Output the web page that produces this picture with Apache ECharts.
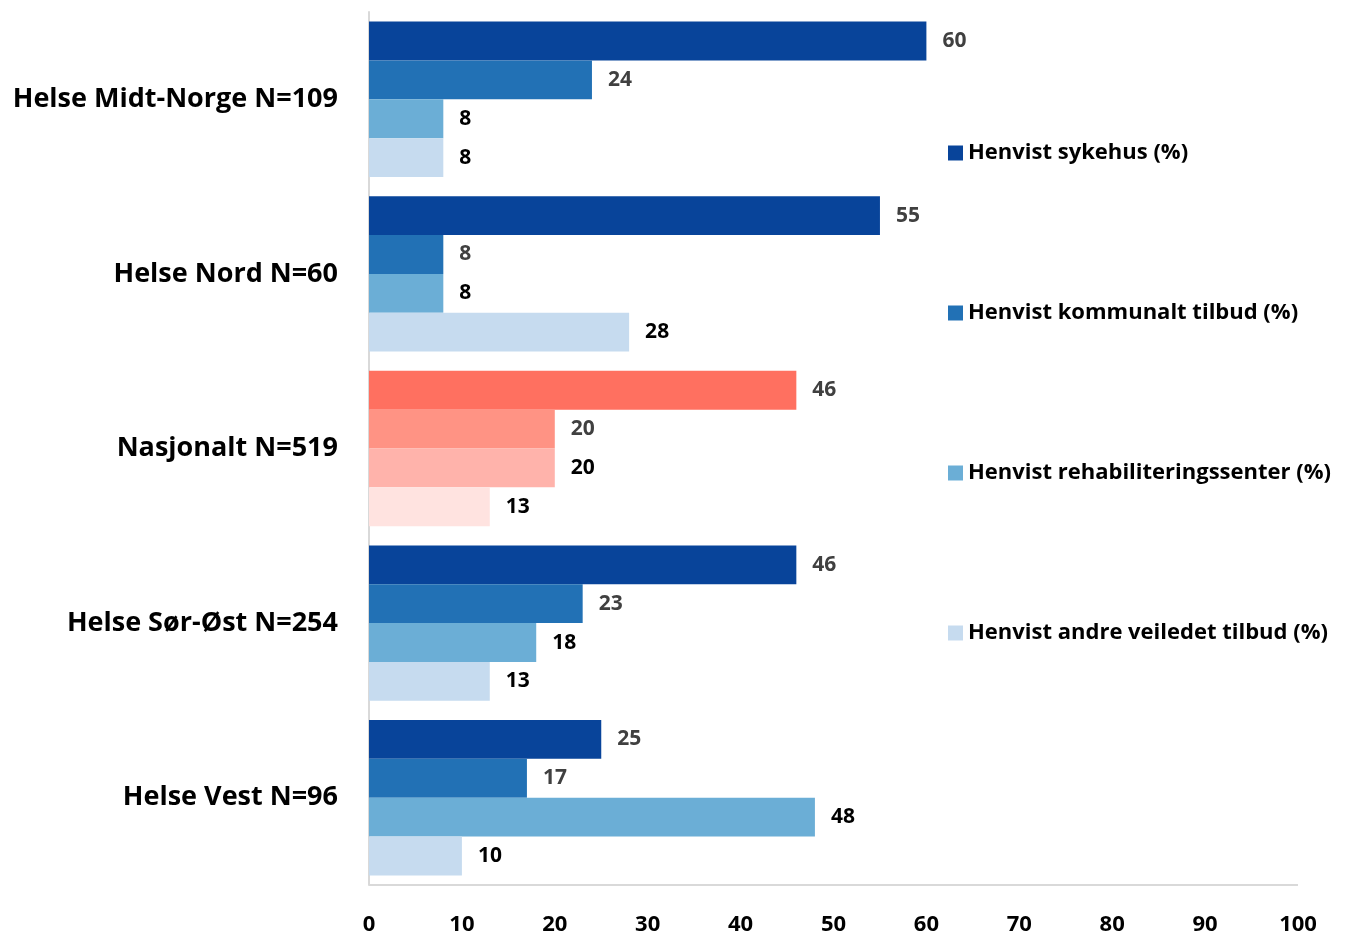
<!DOCTYPE html>
<html><head><meta charset="utf-8">
<script src="https://cdn.jsdelivr.net/npm/echarts@6/dist/echarts.min.js"></script>
<style>html,body{margin:0;padding:0;background:#fff}#c{width:1347px;height:936px}</style>
</head><body><div id="c"></div>
<script>
const categories = ['Helse Midt-Norge N=109','Helse Nord N=60','Nasjonalt N=519','Helse Sør-Øst N=254','Helse Vest N=96'];
const seriesNames = ['Henvist sykehus (%)','Henvist kommunalt tilbud (%)','Henvist rehabiliteringssenter (%)','Henvist andre veiledet tilbud (%)'];
const sykehus = [60,55,46,46,25];
const kommunalt = [24,8,20,23,17];
const rehab = [8,8,20,18,48];
const andre = [8,28,13,13,10];
const xTicks = [0,10,20,30,40,50,60,70,80,90,100];

const blues = ['#08449A','#2271B5','#6BAED6','#C6DBEF'];
const reds = ['#FF7060','#FF9384','#FFB3AB','#FFE3E0'];
const labelColors = ['#404040','#404040','#000000','#000000'];
const highlightIndex = 2;
const FONT = 'Open Sans';

const values = [sykehus,kommunalt,rehab,andre];
const series = values.map((vals,si)=>({
  name: seriesNames[si],
  type:'bar',
  barGap:'0%',
  barCategoryGap:'11%',
  itemStyle:{color:blues[si]},
  label:{show:true,position:'right',distance:16,color:labelColors[si],fontFamily:FONT,fontWeight:'bold',fontSize:21,padding:[3,0,0,0]},
  data: vals.map((v,i)=> i===highlightIndex ? {value:v,itemStyle:{color:reds[si]}} : v)
}));

const chart = echarts.init(document.getElementById('c'));
chart.setOption({
  animation:false,
  grid:{left:369,right:49,top:12,bottom:51,containLabel:false},
  legend:{
    orient:'vertical',left:943,top:136,itemGap:136,itemWidth:15,itemHeight:15,icon:'rect',itemTextGap:7,
    data:seriesNames,
    textStyle:{fontFamily:FONT,fontWeight:'bold',fontSize:22,color:'#000',lineHeight:24}
  },
  xAxis:{
    type:'value',min:0,max:100,interval:10,
    axisLine:{show:false},axisTick:{show:false},splitLine:{show:false},
    axisLabel:{fontFamily:FONT,fontWeight:'bold',fontSize:22,color:'#000',margin:29,
      formatter:v=> xTicks.includes(v)? String(v):''}
  },
  yAxis:{
    type:'category',inverse:true,data:categories,
    axisLine:{show:true,lineStyle:{color:'#D9D9D9',width:2}},
    axisTick:{show:false},
    axisLabel:{fontFamily:FONT,fontWeight:'bold',fontSize:27,color:'#000',margin:31,padding:[4,0,0,0]}
  },
  series: series
});
const gridRect = chart.getModel().getComponent('grid').coordinateSystem.getRect();
const x0 = chart.convertToPixel({xAxisIndex:0},0);
const x1 = chart.convertToPixel({xAxisIndex:0},100);
const yb = gridRect.y + gridRect.height;
chart.setOption({graphic:[{type:'line',shape:{x1:x0,y1:yb,x2:x1,y2:yb},style:{stroke:'#D9D9D9',lineWidth:2},silent:true}]});
</script>
</body></html>
